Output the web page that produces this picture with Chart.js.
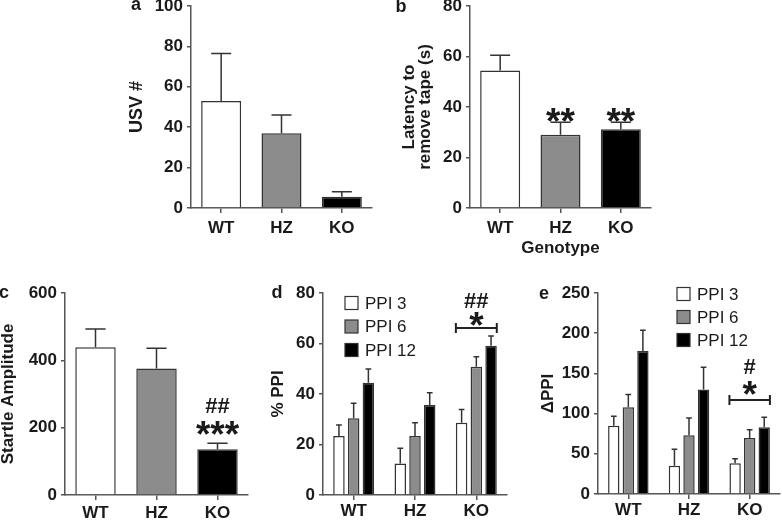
<!DOCTYPE html>
<html>
<head>
<meta charset="utf-8">
<script src="https://cdn.jsdelivr.net/npm/chart.js@4.4.0/dist/chart.umd.min.js"></script>
<style>
  html, body { margin: 0; padding: 0; background: #fff; }
  #fig { position: relative; width: 782px; height: 521px; overflow: hidden; }
  canvas { position: absolute; }
</style>
</head>
<body>
<div id="fig">
  <canvas id="pa"></canvas>
  <canvas id="pb"></canvas>
  <canvas id="pc"></canvas>
  <canvas id="pd"></canvas>
  <canvas id="pe"></canvas>
</div>
<script>
// values
const genotypes = ['WT', 'HZ', 'KO'];

const usvMean = [53, 37, 5.6];
const usvErr = [23.5, 9, 2.5];

const tapeMean = [54.5, 29, 31.2];
const tapeErr = [6, 5, 2.8];

const startleMean = [439, 376, 136];
const startleErr = [54, 60, 18];

const ppiLabels = ['PPI 3', 'PPI 6', 'PPI 12'];
const ppi3 = [23.4, 12.5, 28.6];
const ppi3Err = [4.3, 6, 5.3];
const ppi6 = [30.4, 23.4, 50.8];
const ppi6Err = [5.9, 5.2, 4];
const ppi12 = [44.5, 35.6, 59.1];
const ppi12Err = [5.4, 4.9, 3.9];

const dppi3 = [85, 35, 38.3];
const dppi3Err = [11.7, 20.8, 5.5];
const dppi6 = [108, 73, 69.6];
const dppi6Err = [15.7, 21.6, 10.4];
const dppi12 = [178, 130, 83];
const dppi12Err = [25.7, 27.5, 12.4];

// significance marks: [text, category index, value at glyph centre]
const tapeSig = [['**', 1, 36.8], ['**', 2, 36.8]];
const startleSig = [['##', 2, 267], ['***', 2, 199]];
const ppiSig = [['##', 2, 77.2], ['*', 2, 69.7]];
const dppiSig = [['#', 2, 158], ['*', 2, 132]];

const FONT = '"Liberation Sans", Arial, Helvetica, sans-serif';
const INK = '#1a1a1a';
const AXIS = '#555';
const fills = ['#ffffff', '#8c8c8c', '#000000'];

// upper error bars only, drawn on top of the bars
const errorBars = {
  id: 'errorBars',
  afterDatasetsDraw(chart) {
    const ctx = chart.ctx;
    const y = chart.scales.y;
    chart.data.datasets.forEach((ds, i) => {
      chart.getDatasetMeta(i).data.forEach((bar, j) => {
        const top = y.getPixelForValue(ds.data[j] + ds.errors[j]);
        const half = bar.width / 4;
        ctx.save();
        ctx.strokeStyle = '#333';
        ctx.lineWidth = 1.5;
        ctx.beginPath();
        ctx.moveTo(bar.x, bar.y);
        ctx.lineTo(bar.x, top);
        ctx.moveTo(bar.x - half, top);
        ctx.lineTo(bar.x + half, top);
        ctx.stroke();
        ctx.restore();
      });
    });
  }
};

// panel letter, star/hash marks, bracket and in-plot legend
const marks = {
  id: 'marks',
  afterDraw(chart, args, opts) {
    const ctx = chart.ctx;
    const x = chart.scales.x, y = chart.scales.y;
    const area = chart.chartArea;
    ctx.save();
    ctx.fillStyle = INK;

    // panel letter (page coords)
    ctx.font = 'bold 18px ' + FONT;
    ctx.textAlign = 'center';
    ctx.textBaseline = 'middle';
    ctx.fillText(opts.letter, opts.letterX - opts.rect.l, opts.letterY - opts.rect.t);

    // centred glyphs
    (opts.sig || []).forEach(([txt, cat, val]) => {
      const size = txt.indexOf('*') >= 0 ? 37 : 22;
      ctx.font = 'bold ' + size + 'px ' + FONT;
      ctx.textBaseline = 'alphabetic';
      const m = ctx.measureText(txt);
      const yc = y.getPixelForValue(val);
      ctx.fillText(txt, x.getPixelForValue(cat), yc + (m.actualBoundingBoxAscent - m.actualBoundingBoxDescent) / 2);
    });

    // bracket across one category group
    if (opts.bracket) {
      const [cat, val] = opts.bracket;
      const n = chart.data.datasets.length;
      const first = chart.getDatasetMeta(0).data[cat];
      const last = chart.getDatasetMeta(n - 1).data[cat];
      const x0 = first.x - first.width / 2, x1 = last.x + last.width / 2;
      const yb = y.getPixelForValue(val);
      ctx.strokeStyle = '#222';
      ctx.lineWidth = 2;
      ctx.beginPath();
      ctx.moveTo(x0, yb); ctx.lineTo(x1, yb);
      ctx.moveTo(x0, yb - 5); ctx.lineTo(x0, yb + 5);
      ctx.moveTo(x1, yb - 5); ctx.lineTo(x1, yb + 5);
      ctx.stroke();
    }

    // legend
    if (opts.legend) {
      const L = opts.legend;
      ctx.font = '17px ' + FONT;
      ctx.textAlign = 'left';
      ctx.textBaseline = 'middle';
      chart.data.datasets.forEach((ds, i) => {
        const cy = area.top + L.dy + i * L.gap;
        const sx = area.left + L.dx;
        ctx.fillStyle = ds.backgroundColor;
        ctx.fillRect(sx, cy - 6.5, 13, 13);
        ctx.strokeStyle = '#333';
        ctx.lineWidth = 1.2;
        ctx.strokeRect(sx, cy - 6.5, 13, 13);
        ctx.fillStyle = INK;
        ctx.fillText(ds.label, sx + 20, cy + 1);
      });
    }
    ctx.restore();
  }
};

function bars(label, data, errors, fill) {
  return {
    label, data, errors,
    backgroundColor: fill,
    borderColor: '#333',
    borderWidth: 1.5,
    categoryPercentage: 1,
    barPercentage: 0.663
  };
}

function groupBars(label, data, errors, fill) {
  return {
    label, data, errors,
    backgroundColor: fill,
    borderColor: '#333',
    borderWidth: 1.5,
    categoryPercentage: 0.72,
    barPercentage: 0.78
  };
}

function makePanel(id, rect, area, cfg) {
  const cv = document.getElementById(id);
  cv.width = rect.w;
  cv.height = rect.h;
  cv.style.left = rect.l + 'px';
  cv.style.top = rect.t + 'px';
  const yWidth = area.l - rect.l;
  const xHeight = rect.t + rect.h - area.b;

  return new Chart(cv, {
    type: 'bar',
    data: { labels: genotypes, datasets: cfg.datasets },
    options: {
      responsive: false,
      animation: false,
      devicePixelRatio: 1,
      layout: { padding: { left: 0, top: area.t - rect.t, right: rect.l + rect.w - area.r, bottom: 0 } },
      plugins: {
        legend: { display: false },
        tooltip: { enabled: false },
        marks: {
          rect, letter: cfg.letter, letterX: cfg.letterX, letterY: cfg.letterY,
          sig: cfg.sig, bracket: cfg.bracket, legend: cfg.legend
        }
      },
      scales: {
        x: {
          offset: true,
          grid: { offset: false, drawOnChartArea: false, tickLength: 5, color: AXIS, lineWidth: 1.5 },
          border: { color: AXIS, width: 1.5 },
          ticks: { color: INK, padding: cfg.xPad, font: { family: FONT, size: 17, weight: 'bold' } },
          title: cfg.xTitle ? {
            display: true, text: cfg.xTitle, color: INK,
            font: { family: FONT, size: 17, weight: 'bold' },
            padding: { top: 0, bottom: 3 }
          } : { display: false },
          afterFit: s => { s.height = xHeight; }
        },
        y: {
          min: 0,
          max: cfg.max,
          grid: { drawOnChartArea: false, tickLength: 4, color: AXIS, lineWidth: 1.5 },
          border: { color: AXIS, width: 1.5 },
          ticks: { stepSize: cfg.step, color: INK, padding: 4, font: { family: FONT, size: 17, weight: 'bold' } },
          title: {
            display: true, text: cfg.yTitle, color: INK,
            font: { family: FONT, size: cfg.yTitleSize || 17, weight: 'bold', lineHeight: cfg.yTitleLH || 1.2 },
            padding: { top: cfg.yTitlePad, bottom: 0 }
          },
          afterFit: s => { s.width = yWidth; }
        }
      }
    },
    plugins: [errorBars, marks]
  });
}

// a: USV
makePanel('pa', { l: 100, t: -14, w: 290, h: 264 }, { l: 191, t: 6, r: 372, b: 208 }, {
  datasets: [bars('USV', usvMean, usvErr, fills)],
  max: 100, step: 20, yTitle: 'USV #', yTitleSize: 18, yTitlePad: 26, xPad: 5,
  letter: 'a', letterX: 136, letterY: 5
});

// b: tape removal latency
makePanel('pb', { l: 385, t: -14, w: 280, h: 276 }, { l: 470, t: 6, r: 651, b: 208 }, {
  datasets: [bars('Latency', tapeMean, tapeErr, fills)],
  max: 80, step: 20, yTitle: ['Latency to', 'remove tape (s)'], yTitleLH: 0.9, yTitlePad: 17,
  xPad: 5, xTitle: 'Genotype', sig: tapeSig,
  letter: 'b', letterX: 401, letterY: 7
});

// c: startle amplitude
makePanel('pc', { l: -2, t: 270, w: 260, h: 251 }, { l: 65, t: 293, r: 248, b: 495 }, {
  datasets: [bars('Startle', startleMean, startleErr, fills)],
  max: 600, step: 200, yTitle: 'Startle Amplitude', yTitleLH: 1, yTitlePad: 1.5,
  xPad: 3, sig: startleSig,
  letter: 'c', letterX: 4, letterY: 293
});

// d: % PPI
makePanel('pd', { l: 262, t: 270, w: 255, h: 251 }, { l: 323, t: 293, r: 507, b: 495 }, {
  datasets: [
    groupBars(ppiLabels[0], ppi3, ppi3Err, fills[0]),
    groupBars(ppiLabels[1], ppi6, ppi6Err, fills[1]),
    groupBars(ppiLabels[2], ppi12, ppi12Err, fills[2])
  ],
  max: 80, step: 20, yTitle: '% PPI', yTitleSize: 17, yTitlePad: 6,
  xPad: 1, sig: ppiSig, bracket: [2, 66.1], legend: { dx: 22, dy: 10, gap: 23.5 },
  letter: 'd', letterX: 277, letterY: 293
});

// e: delta PPI
makePanel('pe', { l: 527, t: 270, w: 255, h: 251 }, { l: 598, t: 293, r: 780, b: 494 }, {
  datasets: [
    groupBars(ppiLabels[0], dppi3, dppi3Err, fills[0]),
    groupBars(ppiLabels[1], dppi6, dppi6Err, fills[1]),
    groupBars(ppiLabels[2], dppi12, dppi12Err, fills[2])
  ],
  max: 250, step: 50, yTitle: 'ΔPPI', yTitleSize: 17, yTitlePad: 11,
  xPad: 1, sig: dppiSig, bracket: [2, 117], legend: { dx: 79, dy: 1, gap: 23 },
  letter: 'e', letterX: 544, letterY: 294
});
</script>
</body>
</html>
